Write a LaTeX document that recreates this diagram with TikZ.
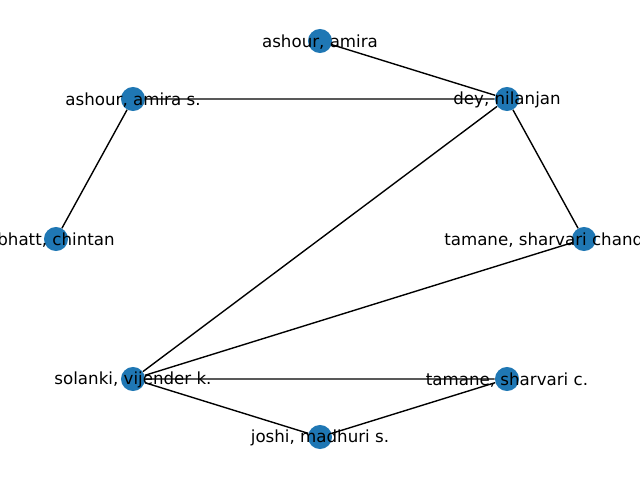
\documentclass[tikz,border=0pt]{standalone}
\usepackage{fontspec}
\setmainfont{DejaVu Sans}
\usetikzlibrary{backgrounds}
\definecolor{nodeblue}{HTML}{1F77B4}
\tikzset{
    person/.style={circle,fill=nodeblue,inner sep=0pt,minimum size=17.3pt},
    personname/.style={inner sep=0pt,font=\fontsize{12}{14}\selectfont,yshift=-0.5pt},
    link/.style={line width=1pt}
}
\begin{document}
\begin{tikzpicture}[x=0.72pt,y=-0.72pt]
            \useasboundingbox (0,0) rectangle (640,480);
            \node[person,label={[personname]center:ashour, amira}] (aa) at (320,41) {};
            \node[person,label={[personname]center:dey, nilanjan}] (dn) at (507,99) {};
            \node[person,label={[personname]center:ashour, amira s.}] (as) at (133,99) {};
            \node[person,label={[personname]center:bhatt, chintan}] (bc) at (56,239) {};
            \node[person] (tsc) at (584,239) {};
            \node[personname,anchor=west] (tsclabel) at (444,239) {tamane, sharvari chand};
            \node[person,label={[personname]center:solanki, vijender k.}] (sv) at (133,379) {};
            \node[person,label={[personname]center:tamane, sharvari c.}] (ts) at (507,379) {};
            \node[person,label={[personname]center:joshi, madhuri s.}] (jm) at (320,437) {};
            \begin{pgfonlayer}{background}
            \draw[link] (aa) -- (dn) -- (as) -- (bc);
            \draw[link] (dn) -- (tsc) -- (sv) -- (dn);
            \draw[link] (sv) -- (ts) -- (jm) -- (sv);
            \end{pgfonlayer}
        \end{tikzpicture}
\end{document}
